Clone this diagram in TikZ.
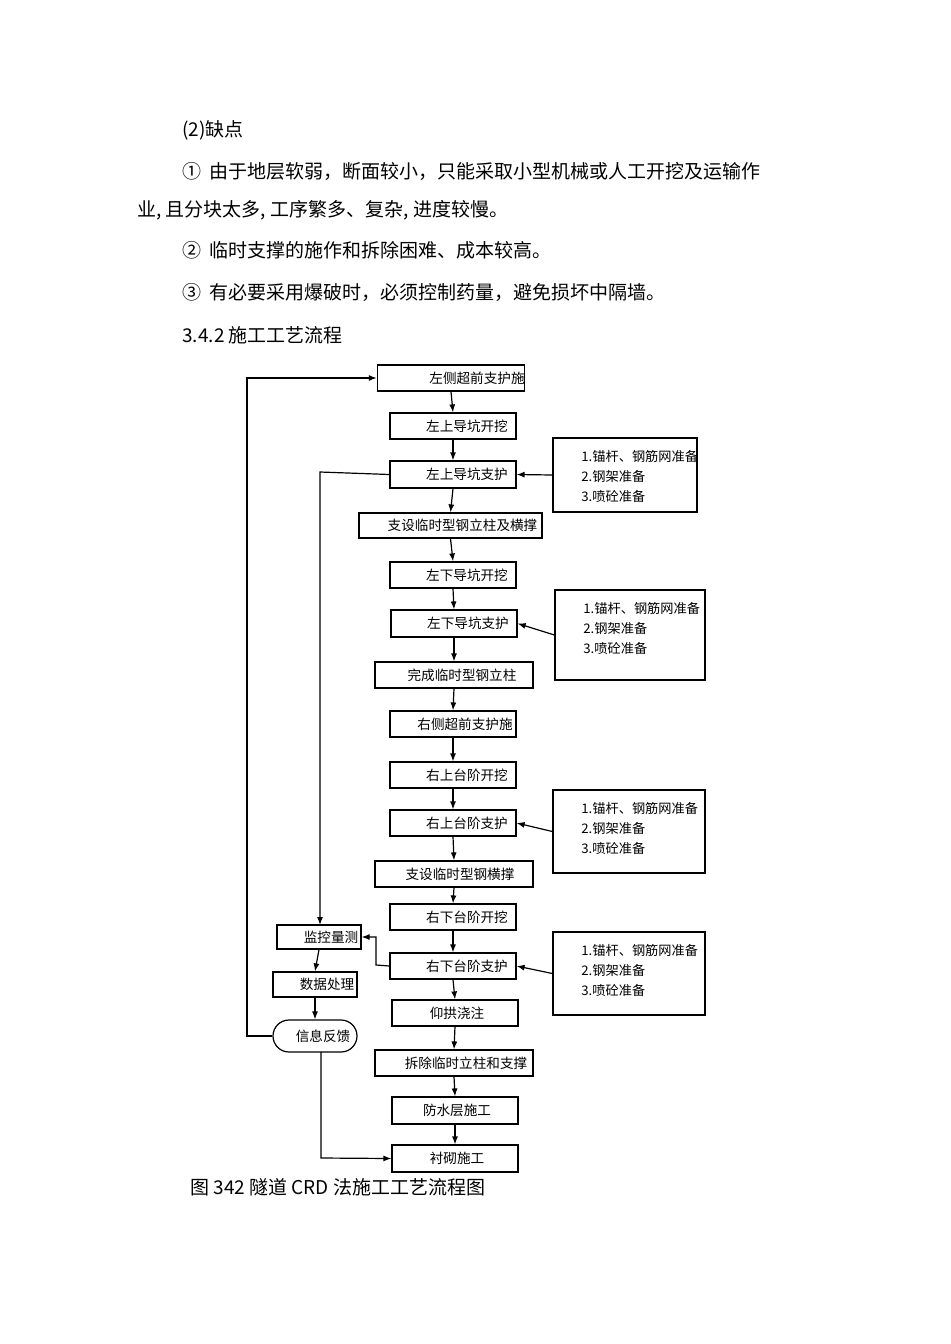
\documentclass[tikz,border=0pt]{standalone}
\usepackage{fontspec}
\setmainfont{Noto Sans CJK SC}
\usetikzlibrary{arrows.meta,shapes.misc}
\begin{document}
\begin{tikzpicture}[x=0.5pt,y=-0.5pt,
 bx/.style={draw,line width=0.6pt,font=\fontsize{6.8}{8}\selectfont,inner sep=0pt},
 tx/.style={anchor=west,font=\fontsize{9.5}{11}\selectfont,inner sep=0pt},
 ar/.style={-{Latex[length=4pt,width=3pt]},line width=0.6pt},
 ln/.style={line width=0.6pt}]
\useasboundingbox (0,0) rectangle (950,1344);
\fill[white] (0,0) rectangle (950,1344);
% text
\node[tx] (t1) at (182,130) {(2)缺点};
\node[tx] (t2) at (182,171) {①\ \ 由于地层软弱，断面较小，只能采取小型机械或人工开挖及运输作};
\node[tx] (t3) at (137,210) {业, 且分块太多, 工序繁多、复杂, 进度较慢。};
\node[tx] (t4) at (182,250) {②\ \ 临时支撑的施作和拆除困难、成本较高。};
\node[tx] (t5) at (182,292) {③\ \ 有必要采用爆破时，必须控制药量，避免损坏中隔墙。};
\node[tx] (t6) at (182,335) {3.4.2 施工工艺流程};
\node[tx] (t7) at (190,1187) {图 342 隧道 CRD 法施工工艺流程图};
% main boxes
\def\B#1#2#3#4#5#6{\node[bx,minimum width=#4*0.5pt-#2*0.5pt,minimum height=#5*0.5pt-#3*0.5pt] (#1) at ({(#2+#4)/2},{(#3+#5)/2}) {\raisebox{-3pt}{#6}};}
\B{b1}{388}{365}{514}{391}{\hspace*{26pt}左侧超前支护施}
\B{b2}{390}{413}{516}{439}{\hspace*{14pt}左上导坑开挖}
\B{b3}{390}{461}{516}{488}{\hspace*{14pt}左上导坑支护}
\B{b4}{359}{513}{542}{538}{\hspace*{12pt}支设临时型钢立柱及横撑}
\B{b5}{390}{562}{516}{588}{\hspace*{14pt}左下导坑开挖}
\B{b6}{391}{610}{517}{637}{\hspace*{14pt}左下导坑支护}
\B{b7}{375}{662}{533}{688}{\hspace*{8pt}完成临时型钢立柱}
\B{b8}{390}{711}{516}{737}{\hspace*{12pt}右侧超前支护施}
\B{b9}{390}{762}{516}{788}{\hspace*{14pt}右上台阶开挖}
\B{b10}{390}{810}{516}{836}{\hspace*{14pt}右上台阶支护}
\B{b11}{375}{861}{533}{887}{\hspace*{6pt}支设临时型钢横撑}
\B{b12}{390}{904}{516}{930}{\hspace*{14pt}右下台阶开挖}
\B{b13}{390}{953}{516}{979}{\hspace*{14pt}右下台阶支护}
\B{b14}{392}{1000}{518}{1026}{\hspace*{2pt}仰拱浇注}
\B{b15}{375}{1050}{533}{1076}{\hspace*{12pt}拆除临时立柱和支撑}
\B{b16}{392}{1097}{518}{1124}{\hspace*{2pt}防水层施工}
\B{b17}{392}{1145}{518}{1172}{\hspace*{2pt}衬砌施工}
% side boxes
\def\S#1#2#3#4#5{\node[bx,minimum width=#4*0.5pt-#2*0.5pt,minimum height=#5*0.5pt-#3*0.5pt] (#1) at ({(#2+#4)/2},{(#3+#5)/2}) {};
 \node[anchor=north west,font=\fontsize{6.6}{10}\selectfont,align=left,inner sep=0pt] (#1t) at (#2+28,#3+12) {1.锚杆、钢筋网准备\\2.钢架准备\\3.喷砼准备};}
\S{sA}{553}{438}{697}{512}
\S{sB}{555}{590}{705}{680}
\S{sC}{553}{790}{705}{873}
\S{sD}{553}{932}{705}{1015}
% left boxes
\B{m1}{277}{925}{361}{949}{\hspace*{12pt}监控量测}
\B{m2}{273}{972}{357}{997}{\hspace*{12pt}数据处理}
\node[bx,rounded rectangle,minimum width=42pt,minimum height=16pt] (m3) at (315,1036) {\hspace*{8pt}信息反馈};
% main flow
\foreach \a/\b in {b1/b2,b2/b3,b3/b4,b4/b5,b5/b6,b6/b7,b7/b8,b8/b9,b9/b10,b10/b11,b11/b12,b12/b13,b13/b14,b14/b15,b15/b16,b16/b17}
  \draw[ar] (\a.south) -- (\b.north);
\foreach \s/\t in {sA/b3,sB/b6,sC/b10,sD/b13}
  \draw[ar] (\s.west) -- (\t.east);
\draw[ar] (m1.south) -- (m2.north);
\draw[ar] (m2.south) -- (m3.north);
\coordinate (c1) at (247,1036);
\draw[ar] (m3.west) -- (c1) |- (b1.west);
\draw[ar] (b3.west) -- (320,472) -- (320,925);
\draw[ar] (b13.west) -- (376,965) -- (376,937) -- (m1.east);
\draw[ar] (321,1052) -- (321,1158) -- (b17.west);
\end{tikzpicture}
\end{document}
